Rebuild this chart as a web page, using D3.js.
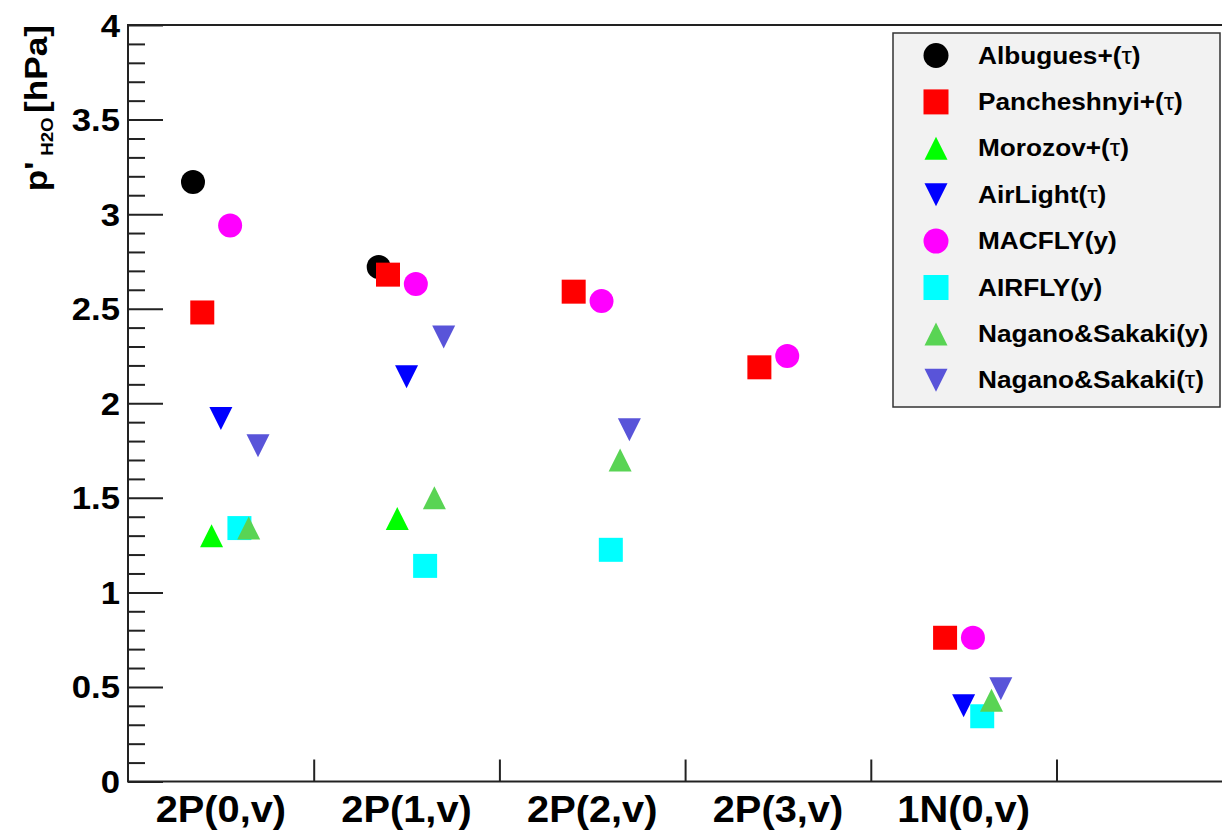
<!DOCTYPE html>
<html><head><meta charset="utf-8">
<script src="https://cdn.jsdelivr.net/npm/d3@7"></script>
<style>
html,body{margin:0;padding:0;background:#fff;}
svg{display:block;font-family:"Liberation Sans",Arial,sans-serif;}
</style></head>
<body><svg id="c" width="1222" height="835"></svg>
<script>
// ---- data ----
const categories = ["2P(0,v)", "2P(1,v)", "2P(2,v)", "2P(3,v)", "1N(0,v)"];
const seriesNames = ["Albugues+(τ)", "Pancheshnyi+(τ)", "Morozov+(τ)", "AirLight(τ)", "MACFLY(y)", "AIRFLY(y)", "Nagano&Sakaki(y)", "Nagano&Sakaki(τ)"];
const albugues    = [3.17, 2.72, null, null, null];
const pancheshnyi = [2.48, 2.68, 2.59, 2.19, 0.76];
const morozov     = [1.30, 1.39, null, null, null];
const airlight    = [1.92, 2.14, null, null, 0.40];
const macfly      = [2.94, 2.63, 2.54, 2.25, 0.76];
const airfly      = [1.34, 1.14, 1.225, null, 0.345];
const naganoY     = [1.34, 1.50, 1.70, null, 0.43];
const naganoTau   = [1.775, 2.35, 1.86, null, 0.49];
const yTickValues = [0, 0.5, 1, 1.5, 2, 2.5, 3, 3.5, 4];
const seriesValues = [albugues, pancheshnyi, morozov, airlight, macfly, airfly, naganoY, naganoTau];

// styles
const colors = ["#000000", "#ff0000", "#00ff00", "#0000ff", "#ff00ff", "#00ffff", "#59d454", "#5954d9"];
const shapes = ["circle", "square", "up", "down", "circle", "square", "up", "down"];
const drawOrder = [0, 1, 2, 3, 4, 5, 7, 6];

const svg = d3.select("#c");
const L = 128, B = 781.5, T = 25;
const binW = 185.7;
const x = d3.scaleLinear().domain([0, 6]).range([L, L + 6 * binW]);
const y = d3.scaleLinear().domain([0, 4]).range([B, T]);
const SX = 1.12;

function markerPath(shape, s) {
  const h = s / 2;
  if (shape === "square") return `M${-h},${-h}H${h}V${h}H${-h}Z`;
  if (shape === "up") return `M0,${-h}L${h},${h}L${-h},${h}Z`;
  if (shape === "down") return `M0,${h}L${h},${-h}L${-h},${-h}Z`;
  return d3.arc()({innerRadius: 0, outerRadius: h, startAngle: 0, endAngle: 2 * Math.PI});
}
function markerSize(shape) { return shape === "up" || shape === "down" ? 23 : 24; }

// frame
svg.append("rect").attr("x", L).attr("y", T).attr("width", x(6) - L).attr("height", B - T)
  .attr("fill", "none").attr("stroke", "#222").attr("stroke-width", 2);

// y axis (ticks inward)
const yMinor = d3.range(0, 40.5, 1).map(d => d / 10).filter(d => !yTickValues.some(v => Math.abs(v - d) < 1e-6));
svg.append("g").attr("transform", `translate(${L},0)`)
  .call(d3.axisLeft(y).tickValues(yMinor).tickSizeInner(-17).tickSizeOuter(0).tickFormat(""))
  .call(g => g.select(".domain").remove())
  .call(g => g.selectAll("line").attr("stroke", "#222").attr("stroke-width", 2));
const yAx = svg.append("g").attr("transform", `translate(${L},0)`)
  .call(d3.axisLeft(y).tickValues(yTickValues).tickSizeInner(-35).tickSizeOuter(0).tickPadding(8).tickFormat(d3.format("~g")))
  .call(g => g.select(".domain").remove())
  .call(g => g.selectAll("line").attr("stroke", "#222").attr("stroke-width", 2));
yAx.selectAll("text").each(function () {
  const t = d3.select(this);
  const tx = +t.attr("x");
  t.attr("x", 0).attr("dy", null).attr("y", 11)
   .attr("transform", `translate(${tx},0) scale(${SX},1)`)
   .attr("font-size", 31).attr("font-weight", "bold").attr("fill", "#000")
   .attr("font-family", "Liberation Sans, Arial, sans-serif");
});

// x axis: bin edges ticks up, labels at bin centers
svg.append("g").attr("transform", `translate(0,${B})`)
  .call(d3.axisBottom(x).tickValues([1, 2, 3, 4, 5]).tickSizeInner(-22).tickSizeOuter(0).tickFormat(""))
  .call(g => g.select(".domain").remove())
  .call(g => g.selectAll("line").attr("stroke", "#222").attr("stroke-width", 2));
svg.append("g").selectAll("text").data(categories).join("text")
  .attr("transform", (d, i) => `translate(${x(i + 0.5)},822) scale(1.09,1)`)
  .attr("text-anchor", "middle").attr("font-size", 36.5).attr("font-weight", "bold")
  .text(d => d);

// y title
const title = svg.append("text")
  .attr("transform", `translate(47,25) rotate(-90) scale(1.1,1)`)
  .attr("text-anchor", "end").attr("font-weight", "bold").attr("font-size", 32);
title.append("tspan").text("p'");
title.append("tspan").attr("font-size", 17).attr("dx", 5).attr("dy", 6).text("H2O");
title.append("tspan").attr("dx", 4).attr("dy", -6).text("[hPa]");

// markers
drawOrder.forEach(si => {
  const vals = seriesValues[si];
  svg.append("g").selectAll("path")
    .data(vals.map((v, ci) => ({v, ci})).filter(d => d.v !== null))
    .join("path")
    .attr("transform", d => `translate(${x(d.ci + 0.35 + 0.05 * si)},${y(d.v)})`)
    .attr("d", markerPath(shapes[si], markerSize(shapes[si])))
    .attr("fill", colors[si]);
});

// legend
const lg = svg.append("g");
lg.append("rect").attr("x", 893).attr("y", 33).attr("width", 327).attr("height", 374)
  .attr("fill", "#f2f2f2").attr("stroke", "#333").attr("stroke-width", 1.5);
seriesNames.forEach((name, i) => {
  const cy = 55.5 + i * 46.4;
  lg.append("path").attr("transform", `translate(936,${cy})`)
    .attr("d", markerPath(shapes[i], shapes[i] === "up" || shapes[i] === "down" ? 23 : 25))
    .attr("fill", colors[i]);
  const t = lg.append("text").attr("transform", `translate(978,${cy + 8}) scale(1.14,1)`)
    .attr("font-size", 23).attr("font-weight", "bold");
  name.split(/(τ)/).forEach(part => {
    if (!part) return;
    t.append("tspan").attr("font-weight", part === "τ" ? "normal" : "bold").text(part);
  });
});
</script></body></html>
